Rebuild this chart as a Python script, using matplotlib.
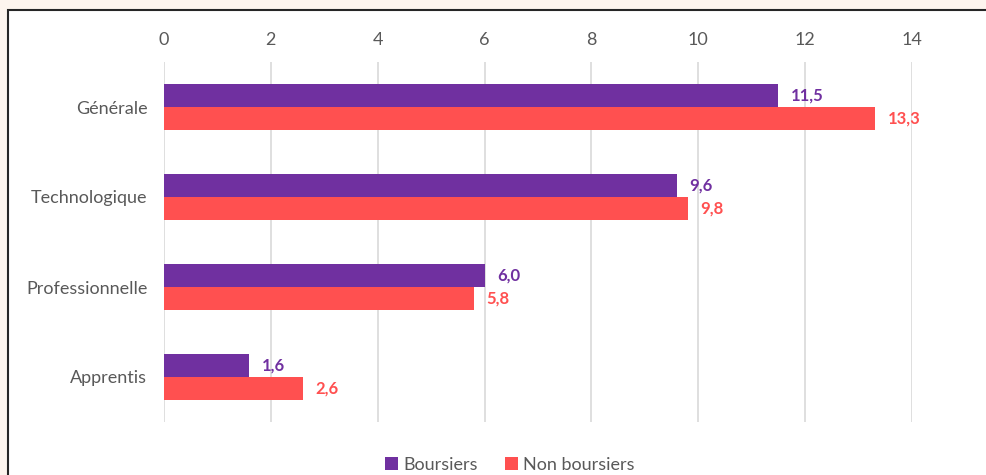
import matplotlib.pyplot as plt
import numpy as np
from matplotlib.patches import Rectangle

categories = ['Générale', 'Technologique', 'Professionnelle', 'Apprentis']
boursiers = [11.5, 9.6, 6.0, 1.6]
non_boursiers = [13.3, 9.8, 5.8, 2.6]
xticks = [0, 2, 4, 6, 8, 10, 12, 14]

purple = '#7030A0'
red = '#FF5050'
grey = '#595959'

plt.rcParams['font.family'] = ['Lato', 'DejaVu Sans']

W, H = 987, 475
fig = plt.figure(figsize=(W / 100, H / 100), dpi=100)
fig.patch.set_facecolor('#FDF5EE')

# white chart area with dark border, runs off the right and bottom
fig.patches.append(Rectangle((8 / W, -0.1), 1.1, 1 - 10 / H + 0.1, transform=fig.transFigure,
                             facecolor='white', edgecolor='#262626', linewidth=1.5, zorder=-10))

ax = fig.add_axes([164 / W, 1 - 422 / H, (912 - 164) / W, 360 / H])
ax.set_facecolor('none')

y = np.arange(len(categories))
h = 0.26
b1 = ax.barh(y - h / 2, boursiers, height=h, color=purple, zorder=3)
b2 = ax.barh(y + h / 2, non_boursiers, height=h, color=red, zorder=3)

for bars, vals, c in [(b1, boursiers, purple), (b2, non_boursiers, red)]:
    for bar, v in zip(bars, vals):
        ax.text(v + 0.24, bar.get_y() + bar.get_height() / 2, f'{v:.1f}'.replace('.', ','),
                va='center', ha='left', color=c, fontsize=12, fontweight='bold')

ax.set_ylim(len(categories) - 0.5, -0.5)
ax.set_xlim(0, 14)
ax.set_xticks(xticks)
ax.xaxis.tick_top()
ax.tick_params(axis='x', length=0, pad=10, labelsize=13, labelcolor=grey)
ax.set_yticks(y)
ax.set_yticklabels(categories)
ax.tick_params(axis='y', length=0, pad=12, labelsize=13, labelcolor=grey)
ax.grid(axis='x', color='#D9D9D9', linewidth=1.2, zorder=0)
for s in ax.spines.values():
    s.set_visible(False)

fig.legend([b1, b2], ['Boursiers', 'Non boursiers'], loc='center', bbox_to_anchor=(510 / W, 1 - 465 / H),
           ncol=2, frameon=False, fontsize=13, labelcolor=grey, handlelength=0.7, handleheight=0.7,
           handletextpad=0.3, columnspacing=1.5)

fig.savefig('out.png', dpi=100, facecolor=fig.get_facecolor())
